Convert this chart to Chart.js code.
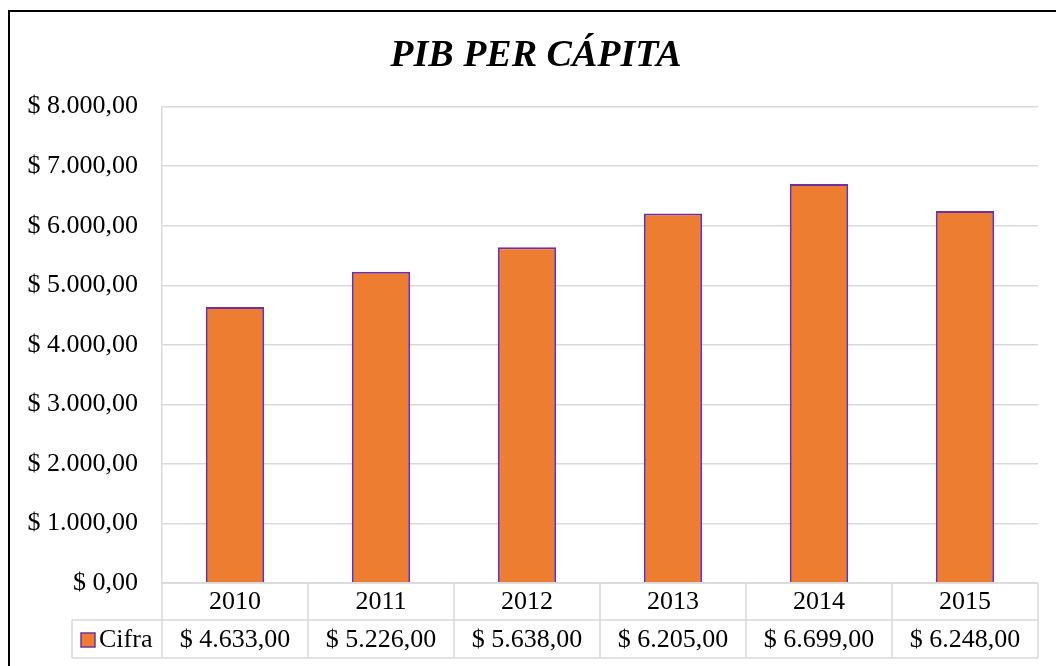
<!DOCTYPE html>
<html>
<head>
<meta charset="utf-8">
<script src="https://cdn.jsdelivr.net/npm/chart.js@4/dist/chart.umd.min.js"></script>
<style>
  html, body { margin: 0; padding: 0; background: #fff; overflow: hidden; }
  #wrap { position: relative; width: 1056px; height: 666px; }
  #frame { position: absolute; left: 8px; top: 10px; width: 1100px; height: 700px; border-left: 2px solid #000; border-top: 2px solid #000; }
  canvas { position: absolute; left: 0; top: 0; }
</style>
</head>
<body>
<div id="wrap">
  <div id="frame"></div>
  <canvas id="pibChart" width="1056" height="666"></canvas>
</div>
<script>
// data
const years = ['2010', '2011', '2012', '2013', '2014', '2015'];
const cifra = [4633, 5226, 5638, 6205, 6699, 6248];
const seriesName = 'Cifra';

const FONT = '"Liberation Serif", "Times New Roman", serif';
const BAR_FILL = '#ED7D31';
const BAR_EDGE = '#7030A0';
const GRID = '#d9d9d9';

// spanish style money: $ 4.633,00
const money = v => {
  const parts = Math.abs(v).toFixed(2).split('.');
  const ints = parts[0].replace(/\B(?=(\d{3})+(?!\d))/g, '.');
  return '$ ' + ints + ',' + parts[1];
};

// title sits a little right of the canvas centre in the original
const nudgeTitle = {
  id: 'nudgeTitle',
  afterLayout(chart) {
    if (chart.titleBlock) chart.titleBlock.left += 16;
  }
};

// draws the data table under the x axis (value row + legend key)
const dataTable = {
  id: 'dataTable',
  afterDraw(chart) {
    const ctx = chart.ctx;
    const x = chart.scales.x;
    const top = x.top;
    const mid = x.top + 37;
    const bottom = x.bottom;
    const n = years.length;
    const step = (x.right - x.left) / n;
    const legendLeft = 72;

    ctx.save();
    ctx.strokeStyle = GRID;
    ctx.lineWidth = 1.5;
    ctx.beginPath();
    // horizontal lines
    ctx.moveTo(x.left, top); ctx.lineTo(x.right, top);
    ctx.moveTo(legendLeft, mid); ctx.lineTo(x.right, mid);
    ctx.moveTo(legendLeft, bottom); ctx.lineTo(x.right, bottom);
    // vertical lines
    ctx.moveTo(legendLeft, mid); ctx.lineTo(legendLeft, bottom);
    for (let i = 0; i <= n; i++) {
      const xx = x.left + step * i;
      ctx.moveTo(xx, top); ctx.lineTo(xx, bottom);
    }
    ctx.stroke();

    // values row
    ctx.fillStyle = '#000';
    ctx.font = '26px ' + FONT;
    ctx.textAlign = 'center';
    ctx.textBaseline = 'middle';
    const rowY = (mid + bottom) / 2 + 1;
    cifra.forEach((v, i) => {
      ctx.fillText(money(v), x.getPixelForValue(i), rowY);
    });

    // legend key
    ctx.fillStyle = BAR_FILL;
    ctx.fillRect(81, rowY - 7, 14, 14);
    ctx.strokeStyle = BAR_EDGE;
    ctx.lineWidth = 1.5;
    ctx.strokeRect(81, rowY - 7, 14, 14);
    ctx.fillStyle = '#000';
    ctx.textAlign = 'left';
    ctx.fillText(seriesName, 99, rowY);
    ctx.restore();
  }
};

const ctx = document.getElementById('pibChart').getContext('2d');
new Chart(ctx, {
  type: 'bar',
  data: {
    labels: years,
    datasets: [{
      label: seriesName,
      data: cifra,
      backgroundColor: BAR_FILL,
      borderColor: BAR_EDGE,
      borderWidth: 2,
      categoryPercentage: 1,
      barPercentage: 0.4
    }]
  },
  options: {
    responsive: false,
    animation: false,
    layout: { padding: { left: 18, right: 18, top: 0, bottom: 8 } },
    plugins: {
      legend: { display: false },
      tooltip: { enabled: false },
      title: {
        display: true,
        text: 'PIB PER CÁPITA',
        color: '#000',
        font: { family: FONT, size: 38, weight: 'bold', style: 'italic', lineHeight: 1.2 },
        padding: { top: 33, bottom: 28 }
      }
    },
    scales: {
      x: {
        afterFit: s => { s.height = 75; },
        grid: { display: false, drawTicks: false },
        border: { display: false },
        ticks: {
          color: '#000',
          padding: 4,
          font: { family: FONT, size: 26 }
        }
      },
      y: {
        min: 0,
        max: 8000,
        afterFit: s => { s.width = 144; },
        grid: { color: GRID, lineWidth: 1.5, drawTicks: false },
        border: { display: true, color: GRID, width: 1.5 },
        ticks: {
          stepSize: 1000,
          color: '#000',
          padding: 24,
          font: { family: FONT, size: 26 },
          callback: v => money(v)
        }
      }
    }
  },
  plugins: [nudgeTitle, dataTable]
});
</script>
</body>
</html>
